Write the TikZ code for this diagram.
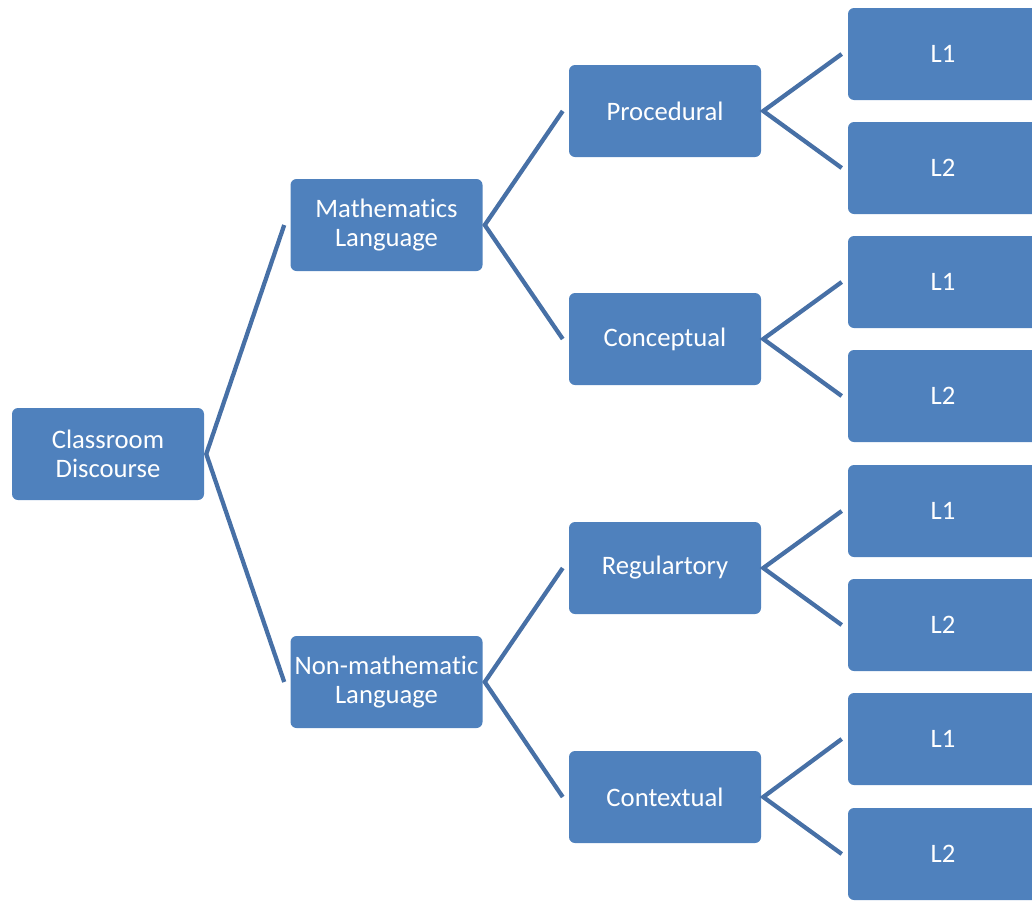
\documentclass[tikz,border=0pt]{standalone}
\usepackage{fontspec}
\setmainfont[Ligatures=NoCommon]{Carlito}
\usetikzlibrary{calc}
\definecolor{boxblue}{HTML}{4F81BD}
\definecolor{linkblue}{HTML}{4770A6}
\begin{document}
\begin{tikzpicture}[x=0.75pt,y=-0.75pt,
  box/.style={fill=boxblue, rounded corners=4.5pt, minimum width=144pt, minimum height=69pt,
    text=white, font=\fontsize{20}{21.5}\selectfont, align=center, inner sep=0pt},
  leaf/.style={box, minimum width=142.5pt},
  link/.style={draw=linkblue, line width=3.2pt, line join=miter}]
\useasboundingbox (0,0) rectangle (1032,900);
\clip (0,0) rectangle (1032,900);
% level 0
\node[box] (cd) at (108,454) {Classroom\\Discourse};
% level 1
\node[box] (ml) at (386.5,225) {Mathematics\\Language};
\node[box] (nl) at (386.5,682) {Non-mathematic\\Language};
% level 2
\node[box] (proc) at (665,111) {Procedural};
\node[box] (conc) at (665,339) {Conceptual};
\node[box] (reg) at (665,568) {Regulartory};
\node[box] (cont) at (665,797) {Contextual};
% level 3
\node[leaf] (p1) at (943,54) {L1};
\node[leaf] (p2) at (943,168) {L2};
\node[leaf] (c1) at (943,282) {L1};
\node[leaf] (c2) at (943,396) {L2};
\node[leaf] (r1) at (943,511) {L1};
\node[leaf] (r2) at (943,625) {L2};
\node[leaf] (x1) at (943,739) {L1};
\node[leaf] (x2) at (943,854) {L2};
% connectors
\draw[link] ($(ml.west)+(-6,0)$) -- ($(cd.east)+(2,0)$) -- ($(nl.west)+(-6,0)$);
\draw[link] ($(proc.west)+(-6,0)$) -- ($(ml.east)+(2,0)$) -- ($(conc.west)+(-6,0)$);
\draw[link] ($(reg.west)+(-6,0)$) -- ($(nl.east)+(2,0)$) -- ($(cont.west)+(-6,0)$);
\draw[link] ($(p1.west)+(-6,0)$) -- ($(proc.east)+(2,0)$) -- ($(p2.west)+(-6,0)$);
\draw[link] ($(c1.west)+(-6,0)$) -- ($(conc.east)+(2,0)$) -- ($(c2.west)+(-6,0)$);
\draw[link] ($(r1.west)+(-6,0)$) -- ($(reg.east)+(2,0)$) -- ($(r2.west)+(-6,0)$);
\draw[link] ($(x1.west)+(-6,0)$) -- ($(cont.east)+(2,0)$) -- ($(x2.west)+(-6,0)$);
\end{tikzpicture}
\end{document}
